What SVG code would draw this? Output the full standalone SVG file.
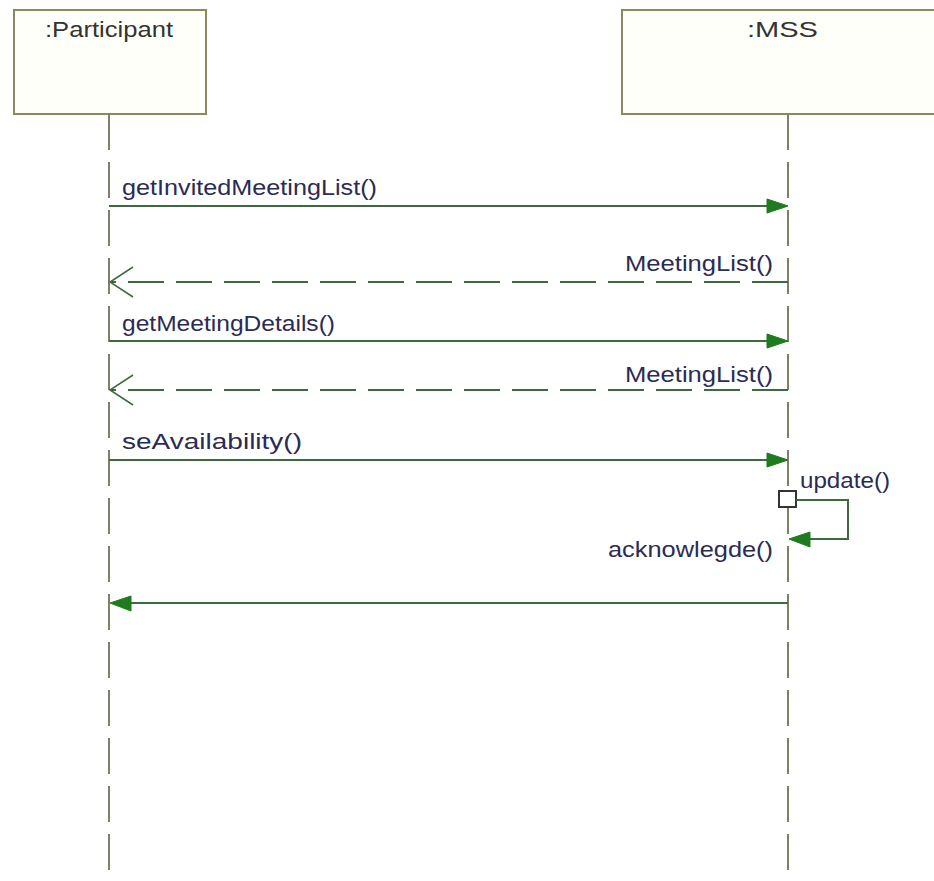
<svg xmlns="http://www.w3.org/2000/svg" width="934" height="881" viewBox="0 0 934 881">
<defs>
<style>
.box{fill:#fffffa;stroke:#8a8a5c;stroke-width:2}
.life{stroke:#80806a;stroke-width:2;stroke-dasharray:36 12;fill:none}
.msg{stroke:#3d6b3d;stroke-width:2;fill:none}
.ret{stroke:#3d6b3d;stroke-width:2;fill:none;stroke-dasharray:36 12}
.head{fill:#1e7b1e;stroke:#1e7b1e;stroke-width:1}
.open{stroke:#3d6b3d;stroke-width:1.5;fill:none}
.lbl{font-family:"Liberation Sans",Arial,sans-serif;font-size:22px;fill:#2b2b55}
.name{font-family:"Liberation Sans",Arial,sans-serif;font-size:22px;fill:#333333}
</style>
</defs>
<rect width="934" height="881" fill="#ffffff"/>
<g id="participant">
<rect class="box" x="14" y="10" width="192" height="104"/>
<text class="name" x="45" y="37" textLength="128" lengthAdjust="spacingAndGlyphs">:Participant</text>
<line class="life" x1="109" y1="114" x2="109" y2="881"/>
</g>
<g id="mss">
<rect class="box" x="622" y="10" width="340" height="104"/>
<text class="name" x="747" y="37" textLength="71" lengthAdjust="spacingAndGlyphs">:MSS</text>
<line class="life" x1="788" y1="114" x2="788" y2="881"/>
</g>
<g id="connectors">
<line class="msg" x1="109" y1="206" x2="770" y2="206"/>
<polygon class="head" points="788,206 767,199 767,213"/>
<text class="lbl" x="122" y="195" textLength="255" lengthAdjust="spacingAndGlyphs">getInvitedMeetingList()</text>

<path class="ret" d="M788,282 H110"/>
<polyline class="open" points="133,267 110,282 133,297"/>
<text class="lbl" x="625" y="271" textLength="148" lengthAdjust="spacingAndGlyphs">MeetingList()</text>

<line class="msg" x1="109" y1="341" x2="770" y2="341"/>
<polygon class="head" points="788,341 767,334 767,348"/>
<text class="lbl" x="122" y="331" textLength="213" lengthAdjust="spacingAndGlyphs">getMeetingDetails()</text>

<path class="ret" d="M788,390 H110"/>
<polyline class="open" points="133,375 110,390 133,405"/>
<text class="lbl" x="625" y="382" textLength="148" lengthAdjust="spacingAndGlyphs">MeetingList()</text>

<line class="msg" x1="109" y1="460" x2="770" y2="460"/>
<polygon class="head" points="788,460 767,453 767,467"/>
<text class="lbl" x="122" y="449" textLength="180" lengthAdjust="spacingAndGlyphs">seAvailability()</text>

<rect x="779" y="491" width="17" height="16" fill="#ffffff" stroke="#333333" stroke-width="2"/>
<polyline class="msg" points="796,500 848,500 848,539 808,539"/>
<polygon class="head" points="789,539 810,532 810,547"/>
<text class="lbl" x="800" y="488" textLength="90" lengthAdjust="spacingAndGlyphs">update()</text>
<text class="lbl" x="608" y="557" textLength="165" lengthAdjust="spacingAndGlyphs">acknowlegde()</text>

<line class="msg" x1="788" y1="603" x2="128" y2="603"/>
<polygon class="head" points="110,603 131,596 131,611"/>
</g>
</svg>
